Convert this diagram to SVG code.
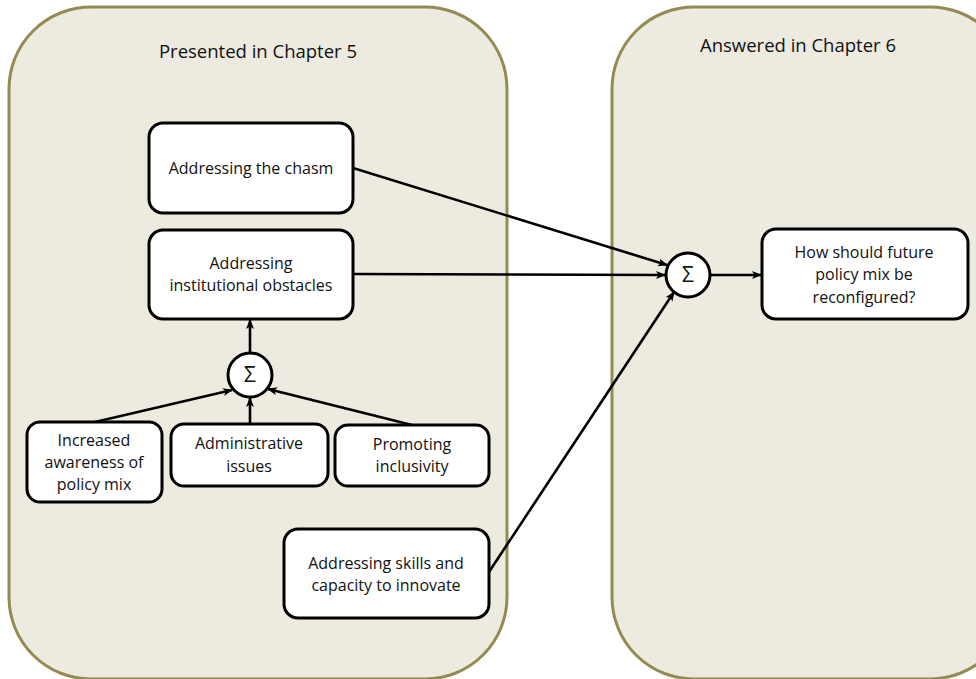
<svg xmlns="http://www.w3.org/2000/svg" width="976" height="679" viewBox="0 0 976 679">
<style>
.panel{fill:#EDEBE0;stroke:#948A54;stroke-width:3}
.box{fill:#fff;stroke:#000;stroke-width:3}
.t{font-family:"Open Sans","Liberation Sans",sans-serif;font-size:16px;fill:#111;text-anchor:middle}
.h{font-family:"Open Sans","Liberation Sans",sans-serif;font-size:18.5px;fill:#111;text-anchor:middle}
.s{font-family:"Open Sans","Liberation Sans",sans-serif;font-size:21px;fill:#111;text-anchor:middle}
.c{fill:none;stroke:#000;stroke-width:2.6}
</style>
<defs>
<marker id="ah" viewBox="0 0 10 8" refX="9" refY="4" markerWidth="10" markerHeight="8" markerUnits="userSpaceOnUse" orient="auto">
<path d="M0,0 L10,4 L0,8 L2.5,4 Z" fill="#000"/>
</marker>
</defs>
<rect class="panel" x="9" y="7" width="498" height="672" rx="82" ry="82"/>
<rect class="panel" x="612" y="7" width="400" height="672" rx="82" ry="82"/>
<text class="h" x="258" y="58">Presented in Chapter 5</text>
<text class="h" x="798" y="52">Answered in Chapter 6</text>
<g id="connectors">
<line class="c" x1="353" y1="168" x2="667" y2="265" marker-end="url(#ah)"/>
<line class="c" x1="353" y1="274" x2="665" y2="275" marker-end="url(#ah)"/>
<line class="c" x1="489" y1="572" x2="674" y2="292" marker-end="url(#ah)"/>
<line class="c" x1="710" y1="275" x2="761" y2="275" marker-end="url(#ah)"/>
<line class="c" x1="250" y1="353" x2="250" y2="320" marker-end="url(#ah)"/>
<line class="c" x1="95" y1="422" x2="232" y2="390" marker-end="url(#ah)"/>
<line class="c" x1="250" y1="424" x2="250" y2="398" marker-end="url(#ah)"/>
<line class="c" x1="412" y1="425" x2="268" y2="389" marker-end="url(#ah)"/>
</g>
<g id="chasm">
<rect class="box" x="149" y="123" width="204" height="90" rx="14"/>
<text class="t" x="251" y="174">Addressing the chasm</text>
</g>
<g id="institutional">
<rect class="box" x="149" y="230" width="204" height="89" rx="14"/>
<text class="t" x="251" y="269">Addressing</text>
<text class="t" x="251" y="291">institutional obstacles</text>
</g>
<g id="sum1">
<circle cx="250" cy="375" r="22" fill="#fff" stroke="#000" stroke-width="3"/>
<text class="s" x="250" y="382">Σ</text>
</g>
<g id="awareness">
<rect class="box" x="27" y="422" width="135" height="80" rx="13"/>
<text class="t" x="94" y="446">Increased</text>
<text class="t" x="94" y="468">awareness of</text>
<text class="t" x="94" y="490">policy mix</text>
</g>
<g id="administrative">
<rect class="box" x="171" y="424" width="157" height="62" rx="13"/>
<text class="t" x="249" y="449">Administrative</text>
<text class="t" x="249" y="472">issues</text>
</g>
<g id="inclusivity">
<rect class="box" x="335" y="425" width="154" height="61" rx="13"/>
<text class="t" x="412" y="450">Promoting</text>
<text class="t" x="412" y="472">inclusivity</text>
</g>
<g id="skills">
<rect class="box" x="284" y="529" width="205" height="89" rx="14"/>
<text class="t" x="386" y="569">Addressing skills and</text>
<text class="t" x="386" y="591">capacity to innovate</text>
</g>
<g id="sum2">
<circle cx="688" cy="275" r="22" fill="#fff" stroke="#000" stroke-width="3"/>
<text class="s" x="688" y="282">Σ</text>
</g>
<g id="question">
<rect class="box" x="762" y="229" width="206" height="90" rx="14"/>
<text class="t" x="864" y="258">How should future</text>
<text class="t" x="864" y="280">policy mix be</text>
<text class="t" x="864" y="303">reconfigured?</text>
</g>
</svg>
